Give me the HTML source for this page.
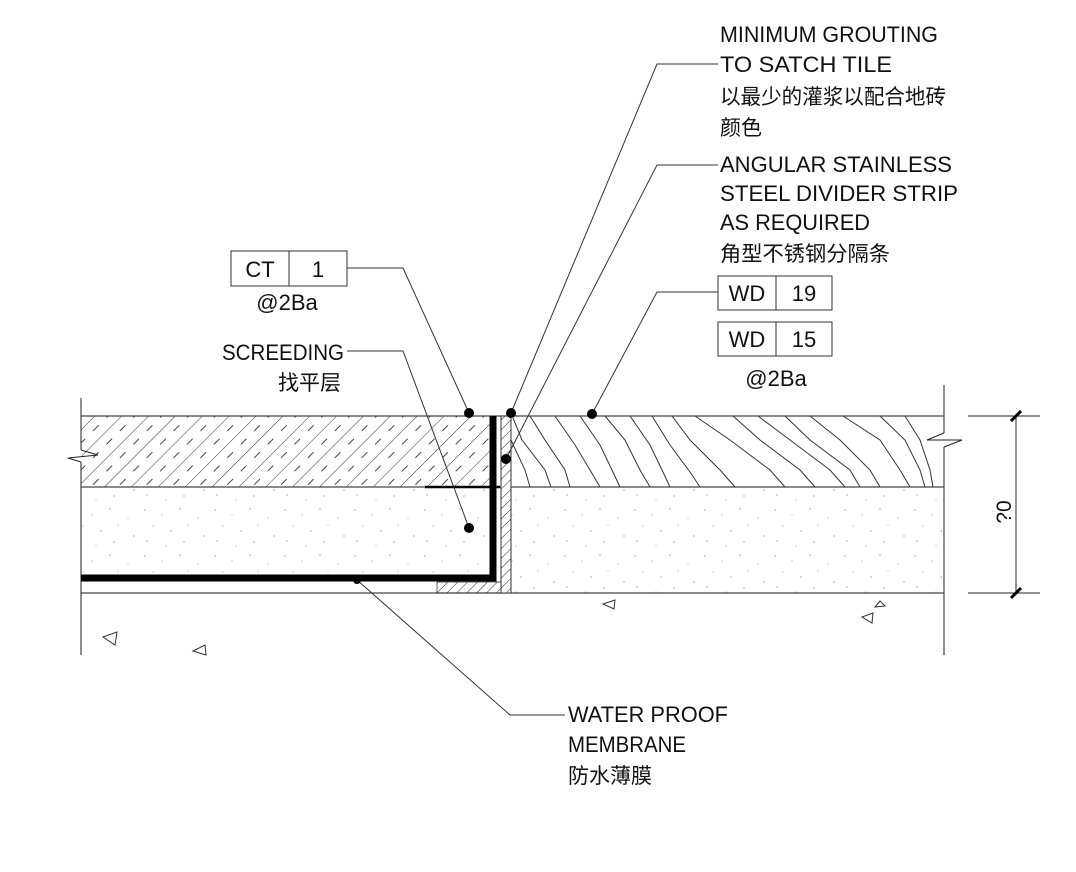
<!DOCTYPE html>
<html><head><meta charset="utf-8"><style>
html,body{margin:0;padding:0;background:#fff;}
svg{display:block;}
text{font-family:"Liberation Sans","Noto Sans CJK SC",sans-serif;fill:#111;}
</style></head><body>
<svg width="1076" height="872" viewBox="0 0 1076 872" xmlns="http://www.w3.org/2000/svg">
<defs>
<pattern id="tileh" patternUnits="userSpaceOnUse" width="19" height="19" patternTransform="rotate(45)">
<line x1="0" y1="0" x2="0" y2="19" stroke="#333" stroke-width="1"/>
<line x1="9.5" y1="3" x2="9.5" y2="11" stroke="#444" stroke-width="1"/>
</pattern>
<pattern id="hatch" patternUnits="userSpaceOnUse" width="7" height="7" patternTransform="rotate(45)">
<line x1="0" y1="0" x2="0" y2="7" stroke="#222" stroke-width="1"/>
</pattern>
<pattern id="dots" patternUnits="userSpaceOnUse" width="70" height="46">
<g fill="#777">
<circle cx="5" cy="4" r="0.6"/><circle cx="22" cy="9" r="0.5"/><circle cx="40" cy="3" r="0.6"/><circle cx="58" cy="12" r="0.5"/>
<circle cx="13" cy="20" r="0.5"/><circle cx="31" cy="25" r="0.6"/><circle cx="48" cy="19" r="0.5"/><circle cx="64" cy="30" r="0.6"/>
<circle cx="7" cy="35" r="0.6"/><circle cx="26" cy="40" r="0.5"/><circle cx="44" cy="36" r="0.6"/>
</g>
</pattern>
</defs>

<rect x="81" y="416" width="409" height="71" fill="url(#tileh)"/>
<rect x="81" y="487" width="409" height="91" fill="url(#dots)"/>
<rect x="511" y="487" width="433" height="106" fill="url(#dots)"/>

<g stroke="#333" stroke-width="1" fill="none">
<polyline points="513,418 522,440 545,470 551,487"/>
<polyline points="530,416 545,440 565,470 570,487"/>
<polyline points="555,416 575,445 590,470 600,487"/>
<polyline points="580,416 600,445 612,470 620,487"/>
<polyline points="605,416 625,440 640,470 650,487"/>
<polyline points="630,416 650,445 662,470 670,487"/>
<polyline points="652,416 670,445 690,472 700,487"/>
<polyline points="672,416 690,440 720,470 735,487"/>
<polyline points="695,416 730,440 770,470 785,487"/>
<polyline points="733,416 760,440 800,470 815,487"/>
<polyline points="758,416 790,440 830,470 845,487"/>
<polyline points="785,416 810,440 850,470 860,487"/>
<polyline points="810,416 840,440 870,470 880,487"/>
<polyline points="843,416 880,440 900,470 910,487"/>
<polyline points="880,416 905,440 920,470 925,487"/>
<polyline points="905,416 920,440 930,470 933,487"/>
<polyline points="511,440 525,470 530,487"/>
</g>

<g stroke="#444" stroke-width="1.2">
<line x1="81" y1="416" x2="944" y2="416"/>
<line x1="81" y1="487" x2="944" y2="487"/>
<line x1="81" y1="593" x2="944" y2="593"/>
<line x1="81" y1="398" x2="81" y2="450"/>
<line x1="81" y1="462" x2="81" y2="655"/>
<line x1="944" y1="385" x2="944" y2="433"/>
<line x1="944" y1="447" x2="944" y2="655"/>
</g>
<polyline points="81,450 98,455 68,458 81,462" fill="none" stroke="#222"/>
<polyline points="944,433 927,440 962,440 944,447" fill="none" stroke="#222"/>

<rect x="501" y="416" width="10" height="177" fill="#fff" stroke="#333"/>
<rect x="501" y="416" width="10" height="177" fill="url(#hatch)"/>
<rect x="437" y="582" width="64" height="11" fill="url(#hatch)" stroke="#333" stroke-width="0.8"/>
<path d="M81,578 H493 V416" fill="none" stroke="#000" stroke-width="7"/>
<line x1="425" y1="487" x2="500" y2="487" stroke="#000" stroke-width="2.5"/>

<g fill="none" stroke="#333" stroke-width="1">
<polygon points="103,637 117,632 115,645"/>
<polygon points="193,651 205,645 206,655"/>
<polygon points="603,604 615,600 614,609"/>
<polygon points="880,601 885,606 875,607"/>
<polygon points="862,617 873,613 872,623"/>
</g>

<g stroke="#222" stroke-width="1">
<line x1="1016" y1="416" x2="1016" y2="593"/>
<line x1="968" y1="416" x2="1040" y2="416"/>
<line x1="968" y1="593" x2="1040" y2="593"/>
</g>
<line x1="1011" y1="421" x2="1021" y2="411" stroke="#000" stroke-width="3"/>
<line x1="1011" y1="598" x2="1021" y2="588" stroke="#000" stroke-width="3"/>
<text x="0" y="0" font-size="21" transform="translate(1011,512) rotate(-90)" text-anchor="middle">?0</text>

<g stroke="#333" stroke-width="1" fill="none">
<polyline points="347,268 403,268 469,413"/>
<polyline points="347,351 403,351 469,528"/>
<polyline points="718,64 657,64 511,413"/>
<polyline points="718,165 657,165 506,459"/>
<polyline points="718,292 657,292 592,414"/>
<polyline points="357,580 510,715 565,715"/>
</g>
<g fill="#000">
<circle cx="469" cy="413" r="5"/>
<circle cx="469" cy="528" r="5"/>
<circle cx="511" cy="413" r="5"/>
<circle cx="506" cy="459" r="5"/>
<circle cx="592" cy="414" r="5"/>
<circle cx="357" cy="580" r="4"/>
</g>

<g fill="none" stroke="#333" stroke-width="1">
<rect x="231" y="251" width="116" height="35"/><line x1="289" y1="251" x2="289" y2="286"/>
<rect x="718" y="276" width="114" height="34"/><line x1="776" y1="276" x2="776" y2="310"/>
<rect x="718" y="322" width="114" height="34"/><line x1="776" y1="322" x2="776" y2="356"/>
</g>
<g font-size="22">
<text x="260" y="277" text-anchor="middle">CT</text>
<text x="318" y="277" text-anchor="middle">1</text>
<text x="287" y="310" text-anchor="middle">@2Ba</text>
<text x="222" y="360" textLength="122" lengthAdjust="spacingAndGlyphs">SCREEDING</text>
<text x="747" y="301" text-anchor="middle">WD</text>
<text x="804" y="301" text-anchor="middle">19</text>
<text x="747" y="347" text-anchor="middle">WD</text>
<text x="804" y="347" text-anchor="middle">15</text>
<text x="776" y="386" text-anchor="middle">@2Ba</text>
<text x="720" y="42" textLength="218" lengthAdjust="spacingAndGlyphs">MINIMUM GROUTING</text>
<text x="720" y="72" textLength="172" lengthAdjust="spacingAndGlyphs">TO SATCH TILE</text>
<text x="720" y="172" textLength="232" lengthAdjust="spacingAndGlyphs">ANGULAR STAINLESS</text>
<text x="720" y="201" textLength="238" lengthAdjust="spacingAndGlyphs">STEEL DIVIDER STRIP</text>
<text x="720" y="230" textLength="150" lengthAdjust="spacingAndGlyphs">AS REQUIRED</text>
<text x="568" y="722" textLength="160" lengthAdjust="spacingAndGlyphs">WATER PROOF</text>
<text x="568" y="752" textLength="118" lengthAdjust="spacingAndGlyphs">MEMBRANE</text>
</g>
<g font-size="21">
<text x="278" y="390" textLength="63" lengthAdjust="spacingAndGlyphs">找平层</text>
<text x="720" y="104" textLength="226" lengthAdjust="spacingAndGlyphs">以最少的灌浆以配合地砖</text>
<text x="720" y="135" textLength="42" lengthAdjust="spacingAndGlyphs">颜色</text>
<text x="720" y="261" textLength="170" lengthAdjust="spacingAndGlyphs">角型不锈钢分隔条</text>
<text x="568" y="783" textLength="84" lengthAdjust="spacingAndGlyphs">防水薄膜</text>
</g>
</svg>
</body></html>
